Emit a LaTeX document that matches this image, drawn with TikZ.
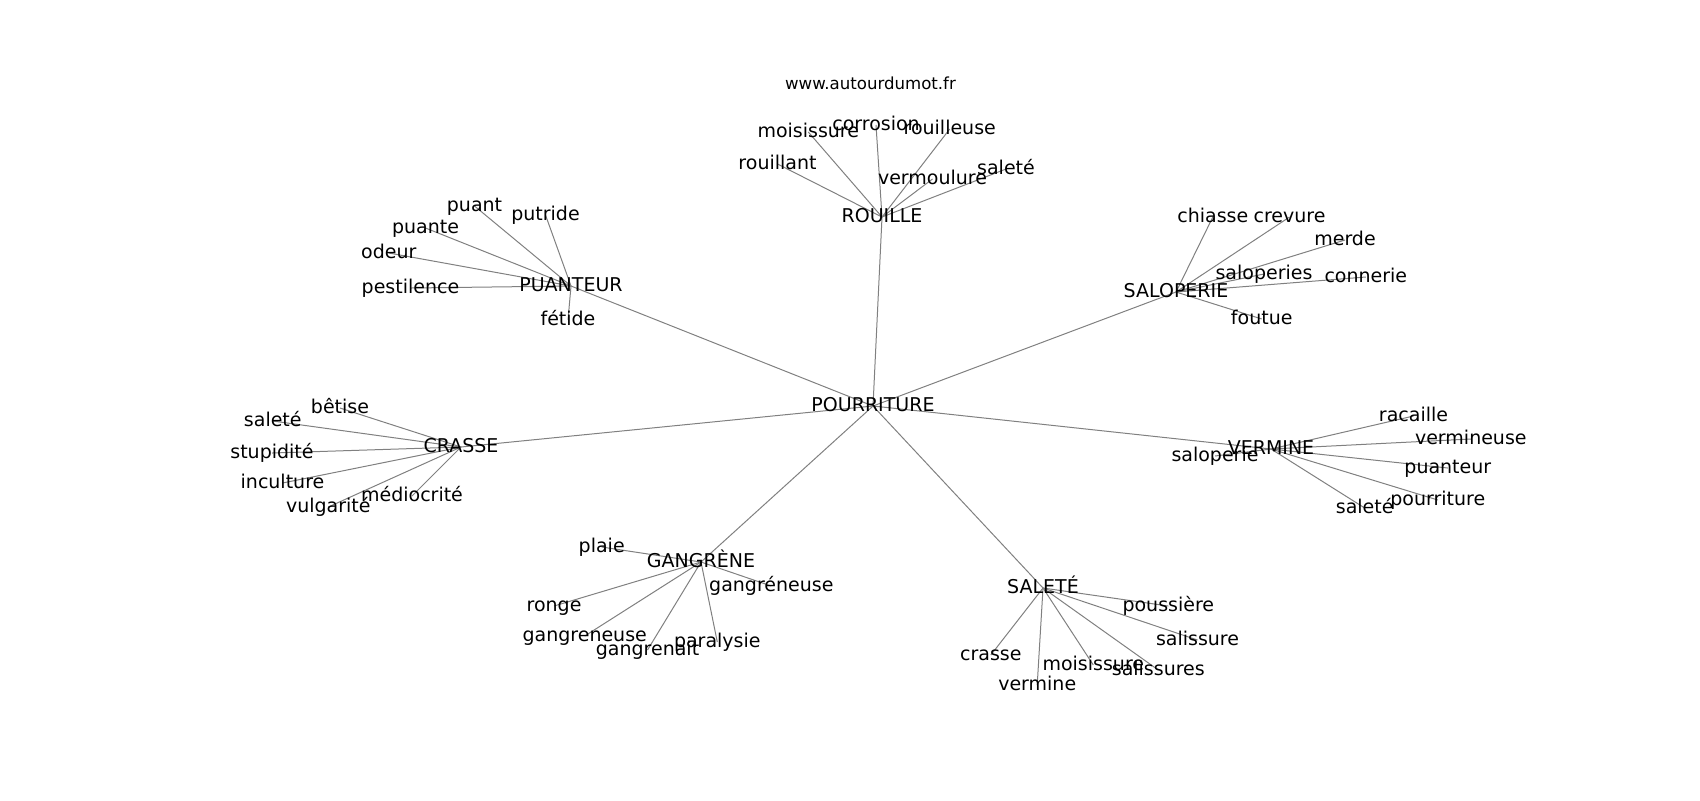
\documentclass[tikz,border=0pt]{standalone}
\usepackage{fontspec}
\setmainfont{DejaVu Sans}
\usetikzlibrary{backgrounds}

\begin{document}
\begin{tikzpicture}[x=0.5pt,y=-0.5pt,
  word/.style={inner sep=0pt,text height=0.76em,text depth=0.24em,font=\fontsize{9.5}{11}\selectfont},
  link/.style={draw=gray,line width=0.5pt}]
\useasboundingbox (0,0) rectangle (1700,800);
\node[font=\fontsize{8.3}{10}\selectfont] (site) at (870.5,83) {www.autourdumot.fr};
% centre
\node[word] (pourriture) at (873,406) {POURRITURE};
% ROUILLE
\node[word] (rouille) at (882,217) {ROUILLE};
\node[word] (ro1) at (777.5,164) {rouillant};
\node[word] (ro2) at (808.3,132) {moisissure};
\node[word] (ro3) at (876,125) {corrosion};
\node[word] (ro4) at (949.7,129) {rouilleuse};
\node[word] (ro5) at (932.5,179) {vermoulure};
\node[word] (ro6) at (1006,169) {saleté};
% PUANTEUR
\node[word] (puanteur) at (571,286) {PUANTEUR};
\node[word] (pu1) at (474.5,206) {puant};
\node[word] (pu2) at (545.5,215) {putride};
\node[word] (pu3) at (425.5,228) {puante};
\node[word] (pu4) at (388.8,253) {odeur};
\node[word] (pu5) at (410.5,288) {pestilence};
\node[word] (pu6) at (568,320) {fétide};
% SALOPERIE
\node[word] (saloperie) at (1176,292) {SALOPERIE};
\node[word] (sa1) at (1212.8,217) {chiasse};
\node[word] (sa2) at (1289.5,217) {crevure};
\node[word] (sa3) at (1345,240) {merde};
\node[word] (sa4) at (1264,274) {saloperies};
\node[word] (sa5) at (1365.8,277) {connerie};
\node[word] (sa6) at (1261.7,319) {foutue};
% CRASSE
\node[word] (crasse) at (461,447) {CRASSE};
\node[word] (cr1) at (340,408) {bêtise};
\node[word] (cr2) at (272.8,421) {saleté};
\node[word] (cr3) at (272,453) {stupidité};
\node[word] (cr4) at (282.5,483) {inculture};
\node[word] (cr5) at (328.3,507) {vulgarité};
\node[word] (cr6) at (412,496) {médiocrité};
% VERMINE
\node[word] (vermine) at (1271,449) {VERMINE};
\node[word] (ve1) at (1215,456) {saloperie};
\node[word] (ve2) at (1413.5,416) {racaille};
\node[word] (ve3) at (1470.8,439) {vermineuse};
\node[word] (ve4) at (1447.8,468) {puanteur};
\node[word] (ve5) at (1437.8,500) {pourriture};
\node[word] (ve6) at (1364.7,508) {saleté};
% GANGRENE
\node[word] (gangrene) at (701,562) {GANGRÈNE};
\node[word] (ga1) at (601.7,547) {plaie};
\node[word] (ga2) at (771.3,586) {gangréneuse};
\node[word] (ga3) at (554,606) {ronge};
\node[word] (ga4) at (584.7,636) {gangreneuse};
\node[word] (ga5) at (647.5,650) {gangrenait};
\node[word] (ga6) at (717.3,642) {paralysie};
% SALETE
\node[word] (salete) at (1043,588) {SALETÉ};
\node[word] (sl1) at (1168.3,606) {poussière};
\node[word] (sl2) at (1197.5,640) {salissure};
\node[word] (sl3) at (990.8,655) {crasse};
\node[word] (sl4) at (1093.3,665) {moisissure};
\node[word] (sl5) at (1158.3,670) {salissures};
\node[word] (sl6) at (1037.2,685) {vermine};

\begin{scope}[on background layer]
\foreach \h in {rouille,puanteur,saloperie,crasse,vermine,gangrene,salete}
  \draw[link] (pourriture.center) -- (\h.center);
\foreach \w in {ro1,ro2,ro3,ro4,ro5,ro6}
  \draw[link] (rouille.center) -- (\w.center);
\foreach \w in {pu1,pu2,pu3,pu4,pu5,pu6}
  \draw[link] (puanteur.center) -- (\w.center);
\foreach \w in {sa1,sa2,sa3,sa4,sa5,sa6}
  \draw[link] (saloperie.center) -- (\w.center);
\foreach \w in {cr1,cr2,cr3,cr4,cr5,cr6}
  \draw[link] (crasse.center) -- (\w.center);
\foreach \w in {ve1,ve2,ve3,ve4,ve5,ve6}
  \draw[link] (vermine.center) -- (\w.center);
\foreach \w in {ga1,ga2,ga3,ga4,ga5,ga6}
  \draw[link] (gangrene.center) -- (\w.center);
\foreach \w in {sl1,sl2,sl3,sl4,sl5,sl6}
  \draw[link] (salete.center) -- (\w.center);
\end{scope}
\end{tikzpicture}
\end{document}
